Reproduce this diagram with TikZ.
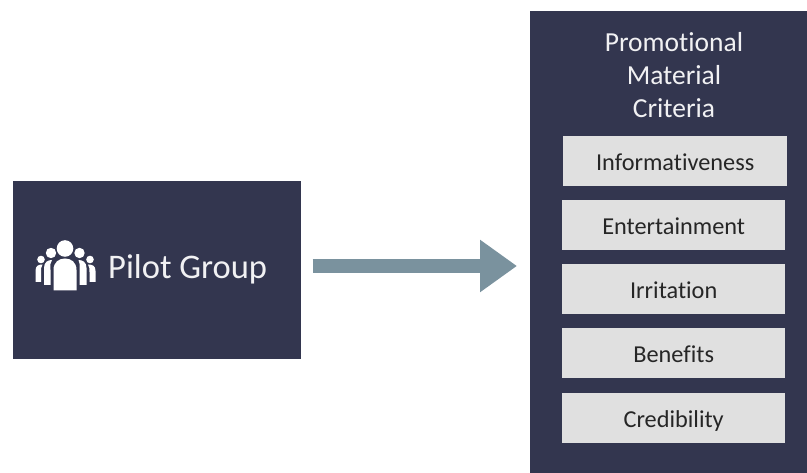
\documentclass[tikz,border=0pt]{standalone}
\usepackage{fontspec}
\setmainfont[Ligatures=NoCommon]{Carlito}
\usetikzlibrary{arrows.meta,calc}
\definecolor{navy}{HTML}{33364F}
\definecolor{slate}{HTML}{7A929E}
\definecolor{panel}{HTML}{E0E0E0}
\tikzset{
  x=1pt,y=-1pt,
  darkbox/.style={fill=navy,draw=none,inner sep=0pt,outer sep=0pt},
  critbox/.style={fill=panel,draw=none,inner sep=0pt,outer sep=0pt,minimum width=222.5pt,minimum height=49.5pt,text=black!85,text height=22pt,text depth=3.4pt,font=\fontsize{24.3}{28}\selectfont},
  icon/.style={fill=white,draw=none},
  flow/.style={draw=slate,line width=14pt,-{Triangle[length=37pt,width=50pt]}}
}
\begin{document}
\begin{tikzpicture}
\useasboundingbox (0,0) rectangle (807,473);
\node[darkbox,minimum width=288pt,minimum height=178pt] (pilot) at (157,270) {};
\node[darkbox,minimum width=277pt,minimum height=462pt] (criteria) at (668.5,242) {};
\node[text=white!93!navy,inner sep=0pt,font=\fontsize{34.5}{40}\selectfont,anchor=base west] (pilotlabel) at (108,279) {Pilot Group};
\node[text=white!93!navy,inner sep=0pt,align=center,font=\fontsize{27.5}{33}\selectfont,anchor=north] (title) at (674,32) {Promotional\\Material\\Criteria};
\node[critbox,minimum width=223.5pt] (c1) at (675.2,161.2) {Informativeness};
\node[critbox] (c2) at (673.7,225.2) {Entertainment};
\node[critbox] (c3) at (673.7,289.2) {Irritation};
\node[critbox] (c4) at (673.7,353.2) {Benefits};
\node[critbox] (c5) at (673.7,418) {Credibility};
\coordinate (arrowlevel) at (0,266);
\draw[flow,shorten <=11.5pt,shorten >=13pt] (pilot.east |- arrowlevel) -- (criteria.west |- arrowlevel);
% people icon
\fill[icon] (65,248.5) circle (8.3);
\fill[icon] (51,253) circle (5.2);
\fill[icon] (79.5,253) circle (5.2);
\fill[icon] (41,259.5) circle (3.8);
\fill[icon] (90,259.5) circle (3.8);
\fill[icon] (53.5,290.5) -- (53.5,270) .. controls (53.5,262) and (59,258.5) .. (65,258.5) .. controls (71,258.5) and (76.5,262) .. (76.5,270) -- (76.5,290.5) -- cycle;
\fill[icon] (44,285) -- (44,268) .. controls (44,262) and (48,260) .. (52,260) .. controls (50,262) and (50.5,265) .. (50.5,270) -- (50.5,285) -- cycle;
\fill[icon] (86.5,285) -- (86.5,268) .. controls (86.5,262) and (82.5,260) .. (78.5,260) .. controls (80,262) and (79.5,265) .. (79.5,270) -- (79.5,285) -- cycle;
\fill[icon] (35.5,282) -- (35.5,271) .. controls (35.5,266) and (38,264.5) .. (42.5,264.5) .. controls (41,267) and (41,269) .. (41,272) -- (41,282) -- cycle;
\fill[icon] (95.5,282) -- (95.5,271) .. controls (95.5,266) and (93,264.5) .. (88,264.5) .. controls (89.5,267) and (89.5,269) .. (89.5,272) -- (89.5,282) -- cycle;
\end{tikzpicture}
\end{document}
